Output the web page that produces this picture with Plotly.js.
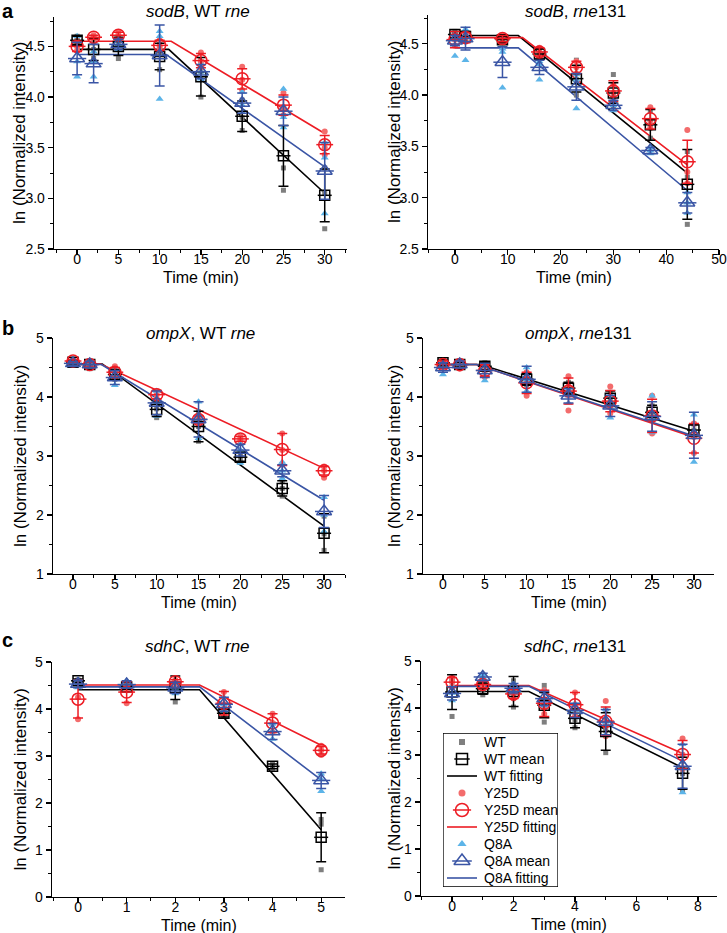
<!DOCTYPE html>
<html>
<head>
<meta charset="utf-8">
<script src="https://cdn.plot.ly/plotly-3.0.1.min.js"></script>
<style>html,body{margin:0;padding:0;background:#fff;}#chart{width:727px;height:933px;}</style>
</head>
<body>
<div id="chart"></div>
<script>
// ---------------- DATA ----------------
// Panel a-left: sodB, WT rne
const aL_time = [0, 2, 5, 10, 15, 20, 25, 30];
const aL_WT_mean = [4.56, 4.47, 4.50, 4.40, 4.20, 3.81, 3.42, 3.03];
const aL_WT_err  = [0.04, 0.11, 0.09, 0.13, 0.19, 0.15, 0.30, 0.26];
const aL_WT_reps = [[4.60,4.56,4.52],[4.55,4.47,4.38],[4.58,4.55,4.38],[4.52,4.42,4.27],[4.35,4.25,4.00],[3.97,3.80,3.67],[3.88,3.30,3.08],[3.30,3.05,2.70]];
const aL_WT_fitx = [0, 11.1, 30];
const aL_WT_fity = [4.47, 4.47, 3.05];
const aL_Y25D_mean = [4.50, 4.59, 4.61, 4.51, 4.36, 4.18, 3.92, 3.53];
const aL_Y25D_err  = [0.05, 0.02, 0.03, 0.05, 0.07, 0.10, 0.10, 0.09];
const aL_Y25D_reps = [[4.55,4.50,4.46],[4.61,4.59,4.57],[4.64,4.61,4.58],[4.56,4.50,4.47],[4.44,4.35,4.29],[4.30,4.17,4.07],[4.04,3.90,3.82],[3.66,3.50,3.43]];
const aL_Y25D_fitx = [0, 11.4, 30];
const aL_Y25D_fity = [4.55, 4.55, 3.64];
const aL_Q8A_mean = [4.38, 4.33, 4.52, 4.41, 4.25, 3.94, 3.86, 3.27];
const aL_Q8A_err  = [0.16, 0.19, 0.05, 0.30, 0.07, 0.10, 0.14, 0.28];
const aL_Q8A_reps = [[4.60,4.35,4.20],[4.45,4.35,4.20],[4.57,4.52,4.47],[4.65,4.60,3.98],[4.32,4.25,4.18],[4.05,3.92,3.85],[4.08,3.80,3.70],[3.55,3.40,2.85]];
const aL_Q8A_fitx = [0, 10.8, 30];
const aL_Q8A_fity = [4.42, 4.42, 3.31];

// Panel a-right: sodB, rne131
const aR_time = [0, 2, 9, 16, 23, 30, 37, 44];
const aR_WT_mean = [4.59, 4.57, 4.54, 4.40, 4.16, 4.02, 3.71, 3.13];
const aR_WT_err  = [0.03, 0.05, 0.03, 0.05, 0.13, 0.10, 0.15, 0.34];
const aR_WT_reps = [[4.62,4.59,4.56],[4.61,4.56,4.54],[4.57,4.54,4.51],[4.45,4.40,4.36],[4.34,4.15,4.00],[4.20,4.00,3.87],[3.85,3.70,3.58],[3.45,3.20,2.74]];
const aR_WT_fitx = [0, 12, 44];
const aR_WT_fity = [4.58, 4.58, 3.24];
const aR_Y25D_mean = [4.54, 4.56, 4.55, 4.42, 4.27, 4.04, 3.77, 3.35];
const aR_Y25D_err  = [0.08, 0.05, 0.03, 0.04, 0.06, 0.10, 0.10, 0.21];
const aR_Y25D_reps = [[4.58,4.54,4.48],[4.60,4.56,4.52],[4.58,4.55,4.52],[4.46,4.42,4.38],[4.33,4.27,4.21],[4.10,4.02,3.95],[3.88,3.75,3.68],[3.66,3.25,3.14]];
const aR_Y25D_fitx = [0, 12.8, 44];
const aR_Y25D_fity = [4.56, 4.56, 3.32];
const aR_Q8A_mean = [4.53, 4.55, 4.32, 4.27, 4.08, 3.90, 3.46, 2.95];
const aR_Q8A_err  = [0.05, 0.11, 0.15, 0.07, 0.13, 0.05, 0.03, 0.10];
const aR_Q8A_reps = [[4.60,4.55,4.38],[4.64,4.62,4.34],[4.45,4.42,4.07],[4.33,4.30,4.15],[4.20,4.15,3.87],[3.95,3.90,3.85],[3.49,3.46,3.43],[3.05,2.95,2.85]];
const aR_Q8A_fitx = [0, 12, 44];
const aR_Q8A_fity = [4.46, 4.46, 3.07];

// Panel b-left: ompX, WT rne
const bL_time = [0, 2, 5, 10, 15, 20, 25, 30];
const bL_WT_mean = [4.59, 4.55, 4.38, 3.79, 3.50, 2.98, 2.45, 1.69];
const bL_WT_err  = [0.03, 0.05, 0.08, 0.12, 0.26, 0.07, 0.13, 0.33];
const bL_WT_reps = [[4.62,4.58,4.56],[4.60,4.55,4.48],[4.45,4.38,4.30],[3.92,3.80,3.65],[3.75,3.50,3.25],[3.05,2.98,2.90],[2.58,2.45,2.32],[1.98,1.68,1.40]];
const bL_WT_fitx = [0, 3.5, 30];
const bL_WT_fity = [4.56, 4.56, 1.81];
const bL_Y25D_mean = [4.61, 4.55, 4.42, 4.04, 3.62, 3.29, 3.11, 2.75];
const bL_Y25D_err  = [0.03, 0.04, 0.08, 0.07, 0.06, 0.04, 0.27, 0.07];
const bL_Y25D_reps = [[4.63,4.61,4.59],[4.58,4.55,4.52],[4.52,4.42,4.33],[4.10,4.04,3.97],[3.68,3.62,3.56],[3.33,3.29,3.25],[3.38,3.10,2.85],[2.82,2.75,2.63]];
const bL_Y25D_fitx = [0, 3.3, 30];
const bL_Y25D_fity = [4.56, 4.56, 2.79];
const bL_Q8A_mean = [4.57, 4.55, 4.33, 3.90, 3.62, 3.10, 2.75, 2.06];
const bL_Q8A_err  = [0.03, 0.05, 0.12, 0.20, 0.30, 0.10, 0.10, 0.27];
const bL_Q8A_reps = [[4.60,4.57,4.54],[4.58,4.55,4.50],[4.46,4.35,4.20],[4.10,3.90,3.68],[3.92,3.62,3.30],[3.20,3.10,2.88],[2.90,2.75,2.62],[2.30,2.00,1.72]];
const bL_Q8A_fitx = [0, 3.4, 30];
const bL_Q8A_fity = [4.55, 4.55, 2.25];

// Panel b-right: ompX, rne131
const bR_time = [0, 2, 5, 10, 15, 20, 25, 30];
const bR_WT_mean = [4.58, 4.55, 4.52, 4.30, 4.15, 3.98, 3.74, 3.44];
const bR_WT_err  = [0.05, 0.04, 0.06, 0.10, 0.10, 0.12, 0.12, 0.10];
const bR_WT_reps = [[4.62,4.58,4.53],[4.58,4.55,4.52],[4.58,4.52,4.45],[4.40,4.30,4.20],[4.25,4.15,4.05],[4.08,3.98,3.86],[3.85,3.74,3.62],[3.54,3.44,3.34]];
const bR_WT_fitx = [0, 4.5, 30];
const bR_WT_fity = [4.55, 4.55, 3.42];
const bR_Y25D_mean = [4.55, 4.55, 4.45, 4.24, 4.10, 3.93, 3.68, 3.30];
const bR_Y25D_err  = [0.06, 0.06, 0.10, 0.18, 0.22, 0.18, 0.28, 0.25];
const bR_Y25D_reps = [[4.60,4.55,4.50],[4.60,4.55,4.48],[4.56,4.45,4.34],[4.42,4.28,4.02],[4.35,4.18,3.77],[4.18,3.90,3.72],[4.02,3.65,3.38],[3.55,3.32,3.05]];
const bR_Y25D_fitx = [0, 4.0, 30];
const bR_Y25D_fity = [4.55, 4.55, 3.32];
const bR_Q8A_mean = [4.50, 4.55, 4.45, 4.30, 4.02, 3.85, 3.67, 3.35];
const bR_Q8A_err  = [0.08, 0.06, 0.12, 0.22, 0.12, 0.18, 0.25, 0.39];
const bR_Q8A_reps = [[4.55,4.50,4.38],[4.60,4.55,4.50],[4.55,4.45,4.28],[4.50,4.30,4.10],[4.12,4.02,3.90],[4.02,3.85,3.65],[4.02,3.65,3.40],[3.70,3.42,2.90]];
const bR_Q8A_fitx = [0, 4.0, 30];
const bR_Q8A_fity = [4.55, 4.55, 3.34];

// Panel c-left: sdhC, WT rne
const cL_time = [0, 1, 2, 3, 4, 5];
const cL_WT_mean = [4.60, 4.47, 4.45, 3.91, 2.78, 1.27];
const cL_WT_err  = [0.04, 0.05, 0.25, 0.08, 0.05, 0.52];
const cL_WT_reps = [[4.62,4.60,4.57],[4.52,4.47,4.43],[4.58,4.55,4.15],[3.98,3.90,3.85],[2.82,2.78,2.74],[1.65,1.55,0.58]];
const cL_WT_fitx = [0, 2.5, 5];
const cL_WT_fity = [4.41, 4.41, 1.43];
const cL_Y25D_mean = [4.21, 4.36, 4.58, 4.12, 3.70, 3.12];
const cL_Y25D_err  = [0.40, 0.22, 0.04, 0.25, 0.20, 0.08];
const cL_Y25D_reps = [[4.60,4.25,3.78],[4.55,4.40,4.12],[4.62,4.58,4.54],[4.36,4.10,3.90],[3.90,3.70,3.50],[3.22,3.12,3.02]];
const cL_Y25D_fitx = [0, 2.5, 5];
const cL_Y25D_fity = [4.51, 4.51, 3.23];
const cL_Q8A_mean = [4.53, 4.52, 4.45, 4.10, 3.52, 2.48];
const cL_Q8A_err  = [0.08, 0.08, 0.12, 0.15, 0.17, 0.17];
const cL_Q8A_reps = [[4.60,4.53,4.46],[4.60,4.52,4.44],[4.57,4.45,4.33],[4.25,4.10,3.95],[3.68,3.52,3.36],[2.62,2.50,2.25]];
const cL_Q8A_fitx = [0, 2.5, 5];
const cL_Q8A_fity = [4.47, 4.47, 2.49];

// Panel c-right: sdhC, rne131
const cR_time = [0, 1, 2, 3, 4, 5, 7.5];
const cR_WT_mean = [4.34, 4.41, 4.35, 4.06, 3.78, 3.50, 2.61];
const cR_WT_err  = [0.37, 0.12, 0.32, 0.27, 0.20, 0.40, 0.34];
const cR_WT_reps = [[4.62,4.58,3.82],[4.55,4.40,4.28],[4.58,4.45,4.02],[4.48,4.00,3.70],[4.00,3.75,3.58],[3.95,3.52,3.05],[3.00,2.60,2.25]];
const cR_WT_fitx = [0, 2.5, 7.5];
const cR_WT_fity = [4.35, 4.35, 2.73];
const cR_Y25D_mean = [4.55, 4.50, 4.30, 4.10, 4.07, 3.72, 3.01];
const cR_Y25D_err  = [0.10, 0.07, 0.10, 0.28, 0.26, 0.30, 0.30];
const cR_Y25D_reps = [[4.65,4.55,4.45],[4.58,4.50,4.42],[4.40,4.30,4.20],[4.38,4.05,3.87],[4.33,4.05,3.82],[4.15,3.62,3.40],[3.35,3.00,2.70]];
const cR_Y25D_fitx = [0, 2.5, 7.5];
const cR_Y25D_fity = [4.48, 4.48, 3.03];
const cR_Q8A_mean = [4.31, 4.66, 4.42, 4.20, 3.95, 3.70, 2.76];
const cR_Q8A_err  = [0.14, 0.08, 0.10, 0.15, 0.15, 0.27, 0.47];
const cR_Q8A_reps = [[4.45,4.32,4.16],[4.72,4.66,4.58],[4.52,4.42,4.32],[4.35,4.20,4.05],[4.10,3.95,3.80],[3.97,3.70,3.43],[3.23,2.85,2.20]];
const cR_Q8A_fitx = [0, 2.5, 7.5];
const cR_Q8A_fity = [4.46, 4.46, 2.87];

const seriesNames = ['WT', 'Y25D', 'Q8A'];
const legendLabels = ['WT', 'WT mean', 'WT fitting', 'Y25D', 'Y25D mean', 'Y25D fitting', 'Q8A', 'Q8A mean', 'Q8A fitting'];
const panelTitles = ['<i>sodB</i>, WT <i>rne</i>', '<i>sodB</i>, <i>rne</i>131', '<i>ompX</i>, WT <i>rne</i>', '<i>ompX</i>, <i>rne</i>131', '<i>sdhC</i>, WT <i>rne</i>', '<i>sdhC</i>, <i>rne</i>131'];
const xTitle = 'Time (min)';
const yTitle = 'ln (Normalized intensity)';
const panelLetters = ['a', 'b', 'c'];

// ---------------- STYLE / LAYOUT ----------------
const W = 727, H = 933;
const FONT = 'Liberation Sans, Arial, Helvetica, sans-serif';
const STY = {
  WT:   {c: '#000000', pc: '#7f7f7f', ps: 'square',      pz: 5, ms: 'square-open',      mz: 10},
  Y25D: {c: '#ed1c24', pc: '#f36c6c', ps: 'circle',      pz: 6, ms: 'circle-open',      mz: 12},
  Q8A:  {c: '#3a55a5', pc: '#5cb4e8', ps: 'triangle-up', pz: 7, ms: 'triangle-up-open', mz: 13}
};

function group(t, p) {
  const o = {t: t};
  seriesNames.forEach(n => { o[n] = {m: p[n][0], e: p[n][1], r: p[n][2], fx: p[n][3], fy: p[n][4]}; });
  return o;
}
const DATA = {
  aL: group(aL_time, {WT: [aL_WT_mean, aL_WT_err, aL_WT_reps, aL_WT_fitx, aL_WT_fity], Y25D: [aL_Y25D_mean, aL_Y25D_err, aL_Y25D_reps, aL_Y25D_fitx, aL_Y25D_fity], Q8A: [aL_Q8A_mean, aL_Q8A_err, aL_Q8A_reps, aL_Q8A_fitx, aL_Q8A_fity]}),
  aR: group(aR_time, {WT: [aR_WT_mean, aR_WT_err, aR_WT_reps, aR_WT_fitx, aR_WT_fity], Y25D: [aR_Y25D_mean, aR_Y25D_err, aR_Y25D_reps, aR_Y25D_fitx, aR_Y25D_fity], Q8A: [aR_Q8A_mean, aR_Q8A_err, aR_Q8A_reps, aR_Q8A_fitx, aR_Q8A_fity]}),
  bL: group(bL_time, {WT: [bL_WT_mean, bL_WT_err, bL_WT_reps, bL_WT_fitx, bL_WT_fity], Y25D: [bL_Y25D_mean, bL_Y25D_err, bL_Y25D_reps, bL_Y25D_fitx, bL_Y25D_fity], Q8A: [bL_Q8A_mean, bL_Q8A_err, bL_Q8A_reps, bL_Q8A_fitx, bL_Q8A_fity]}),
  bR: group(bR_time, {WT: [bR_WT_mean, bR_WT_err, bR_WT_reps, bR_WT_fitx, bR_WT_fity], Y25D: [bR_Y25D_mean, bR_Y25D_err, bR_Y25D_reps, bR_Y25D_fitx, bR_Y25D_fity], Q8A: [bR_Q8A_mean, bR_Q8A_err, bR_Q8A_reps, bR_Q8A_fitx, bR_Q8A_fity]}),
  cL: group(cL_time, {WT: [cL_WT_mean, cL_WT_err, cL_WT_reps, cL_WT_fitx, cL_WT_fity], Y25D: [cL_Y25D_mean, cL_Y25D_err, cL_Y25D_reps, cL_Y25D_fitx, cL_Y25D_fity], Q8A: [cL_Q8A_mean, cL_Q8A_err, cL_Q8A_reps, cL_Q8A_fitx, cL_Q8A_fity]}),
  cR: group(cR_time, {WT: [cR_WT_mean, cR_WT_err, cR_WT_reps, cR_WT_fitx, cR_WT_fity], Y25D: [cR_Y25D_mean, cR_Y25D_err, cR_Y25D_reps, cR_Y25D_fitx, cR_Y25D_fity], Q8A: [cR_Q8A_mean, cR_Q8A_err, cR_Q8A_reps, cR_Q8A_fitx, cR_Q8A_fity]})
};

// panel geometry in pixels
const PANELS = [
  {k: 'aL', x: [54, 347],  y: [17, 249],  xr: [-2.8, 32.7], yr: [2.5, 4.79], xdt: 5,  xm: 2.5, ydt: 0.5, ym: 0.25, fmt: '.1f', tx: 198, ty: 12},
  {k: 'aR', x: [428, 719], y: [15, 249],  xr: [-5.1, 50],   yr: [2.5, 4.78], xdt: 10, xm: 5,   ydt: 0.5, ym: 0.25, fmt: '.1f', tx: 575, ty: 12},
  {k: 'bL', x: [53, 345],  y: [338, 574], xr: [-2.39, 32.5], yr: [1, 5],     xdt: 5,  xm: 2.5, ydt: 1,   ym: 0.5,  fmt: 'd',   tx: 200, ty: 333},
  {k: 'bR', x: [423, 714], y: [338, 574], xr: [-2.39, 32.4], yr: [1, 5],     xdt: 5,  xm: 2.5, ydt: 1,   ym: 0.5,  fmt: 'd',   tx: 578, ty: 333},
  {k: 'cL', x: [52, 345],  y: [662, 897], xr: [-0.535, 5.49], yr: [0, 5],    xdt: 1,  xm: 0.5, ydt: 1,   ym: 0.5,  fmt: 'd',   tx: 197, ty: 646},
  {k: 'cR', x: [421, 717], y: [661, 896], xr: [-1.01, 8.62], yr: [0, 5],     xdt: 2,  xm: 1,   ydt: 1,   ym: 0.5,  fmt: 'd',   tx: 575, ty: 646}
];

function xd(a, b) { return [a / W, b / W]; }
function yd(top, bottom) { return [1 - bottom / H, 1 - top / H]; }
function px(x) { return x / W; }
function py(y) { return 1 - y / H; }

function mkAxis(domain, range, dtick, mdtick, fmt, anchor, isX) {
  return {
    domain: domain, range: range, anchor: anchor, autorange: false,
    tickmode: 'linear', tick0: 0, dtick: dtick, tickformat: fmt,
    showline: true, linecolor: '#000', linewidth: 1.3,
    ticks: 'outside', ticklen: 5, tickwidth: 1.3, tickcolor: '#000',
    ticklabelstandoff: isX ? -8 : 0,
    showgrid: false, zeroline: false,
    tickfont: {family: FONT, size: 14, color: '#000'},
    minor: {ticks: 'outside', ticklen: 3, tickwidth: 1, tickcolor: '#000', dtick: mdtick, tick0: 0, showgrid: false},
    fixedrange: true
  };
}

const traces = [];
const layout = {
  width: W, height: H, margin: {l: 0, r: 0, t: 0, b: 0},
  paper_bgcolor: '#fff', plot_bgcolor: 'rgba(0,0,0,0)',
  showlegend: false, font: {family: FONT, color: '#000'},
  annotations: [], shapes: []
};

function ann(text, x, y, o) {
  layout.annotations.push(Object.assign({text: text, x: px(x), y: py(y), xref: 'paper', yref: 'paper', showarrow: false,
    xanchor: 'center', yanchor: 'middle', font: {family: FONT, size: 16, color: '#000'}}, o || {}));
}

PANELS.forEach((P, i) => {
  const s = i === 0 ? '' : String(i + 1);
  const D = DATA[P.k];
  layout['xaxis' + s] = mkAxis(xd(P.x[0], P.x[1]), P.xr, P.xdt, P.xm, 'd', 'y' + s, true);
  layout['yaxis' + s] = mkAxis(yd(P.y[0], P.y[1]), P.yr, P.ydt, P.ym, P.fmt, 'x' + s, false);
  const xa = 'x' + s, ya = 'y' + s;
  // fitting lines
  seriesNames.forEach(n => {
    traces.push({type: 'scatter', mode: 'lines', x: D[n].fx, y: D[n].fy, xaxis: xa, yaxis: ya,
      line: {color: STY[n].c, width: 1.6}, hoverinfo: 'skip'});
  });
  // replicate points
  seriesNames.forEach(n => {
    const xs = [], ys = [];
    D[n].r.forEach((arr, j) => arr.forEach(v => { xs.push(D.t[j]); ys.push(v); }));
    traces.push({type: 'scatter', mode: 'markers', x: xs, y: ys, xaxis: xa, yaxis: ya,
      marker: {symbol: STY[n].ps, size: STY[n].pz, color: STY[n].pc, line: {width: 0}}, hoverinfo: 'skip'});
  });
  // means with error bars
  seriesNames.forEach(n => {
    traces.push({type: 'scatter', mode: 'markers', x: D.t, y: D[n].m, xaxis: xa, yaxis: ya,
      error_y: {type: 'data', array: D[n].e, visible: true, color: STY[n].c, thickness: 1.5, width: 5},
      marker: {symbol: STY[n].ms, size: STY[n].mz, color: STY[n].c, line: {color: STY[n].c, width: 1.5}}, hoverinfo: 'skip'});
    traces.push({type: 'scatter', mode: 'markers', x: D.t, y: D[n].m, xaxis: xa, yaxis: ya,
      marker: {symbol: 'line-ew-open', size: STY[n].mz, color: STY[n].c, line: {color: STY[n].c, width: 1.5}}, hoverinfo: 'skip'});
  });
  // titles
  ann(panelTitles[i], P.tx, P.ty, {font: {family: FONT, size: 17, color: '#000'}});
  const cx = (P.x[0] + P.x[1]) / 2, cy = (P.y[0] + P.y[1]) / 2;
  ann(xTitle, cx, P.y[1] + 28, {font: {family: FONT, size: 16, color: '#000'}});
  ann(yTitle, i % 2 === 0 ? 20 : 394, cy, {textangle: -90, font: {family: FONT, size: 17, color: '#000'}});
});

// panel letters
ann('<b>' + panelLetters[0] + '</b>', 0, 11, {xanchor: 'left', font: {family: FONT, size: 20, color: '#000'}});
ann('<b>' + panelLetters[1] + '</b>', 0, 328, {xanchor: 'left', font: {family: FONT, size: 20, color: '#000'}});
ann('<b>' + panelLetters[2] + '</b>', 0, 640, {xanchor: 'left', font: {family: FONT, size: 20, color: '#000'}});

// ---------------- custom legend ----------------
const LB = {x0: 443, x1: 558, y0: 733, y1: 887};
layout.xaxis7 = {domain: xd(LB.x0, LB.x1), range: [LB.x0, LB.x1], visible: false, fixedrange: true, anchor: 'y7'};
layout.yaxis7 = {domain: yd(LB.y0, LB.y1), range: [LB.y1, LB.y0], visible: false, fixedrange: true, anchor: 'x7'};
layout.shapes.push({type: 'rect', xref: 'x7', yref: 'y7', x0: LB.x0, x1: LB.x1, y0: LB.y0, y1: LB.y1,
  line: {color: '#000', width: 1.3}, fillcolor: '#fff', layer: 'below'});
legendLabels.forEach((lab, i) => {
  const n = seriesNames[Math.floor(i / 3)], kind = i % 3;
  const ry = LB.y0 + 9 + 17 * i;
  const st = STY[n];
  if (kind === 0) {
    traces.push({type: 'scatter', mode: 'markers', x: [462], y: [ry], xaxis: 'x7', yaxis: 'y7',
      marker: {symbol: st.ps, size: st.pz + 1, color: st.pc}, hoverinfo: 'skip'});
  } else if (kind === 1) {
    traces.push({type: 'scatter', mode: 'markers', x: [462], y: [ry], xaxis: 'x7', yaxis: 'y7',
      marker: {symbol: st.ms, size: st.mz + 1, color: st.c, line: {color: st.c, width: 1.5}}, hoverinfo: 'skip'});
    traces.push({type: 'scatter', mode: 'markers', x: [462], y: [ry], xaxis: 'x7', yaxis: 'y7',
      marker: {symbol: 'line-ew-open', size: st.mz + 1, color: st.c, line: {color: st.c, width: 1.5}}, hoverinfo: 'skip'});
  } else {
    layout.shapes.push({type: 'line', xref: 'x7', yref: 'y7', x0: 447, x1: 477, y0: ry, y1: ry,
      line: {color: st.c, width: 1.6}, layer: 'above'});
  }
  layout.annotations.push({text: lab, xref: 'x7', yref: 'y7', x: 482, y: ry, xanchor: 'left', yanchor: 'middle',
    showarrow: false, font: {family: FONT, size: 14, color: '#000'}});
});

Plotly.newPlot('chart', traces, layout, {staticPlot: true, displayModeBar: false});
</script>
</body>
</html>
